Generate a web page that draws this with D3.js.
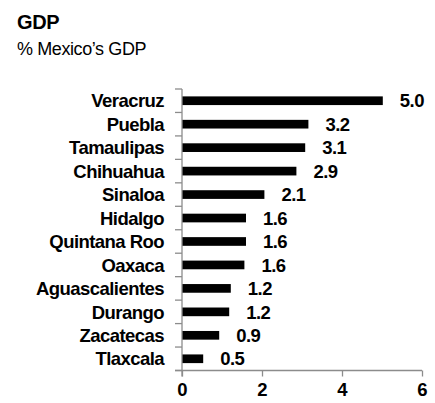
<!DOCTYPE html>
<html>
<head>
<meta charset="utf-8">
<script src="https://cdn.jsdelivr.net/npm/d3@7/dist/d3.min.js"></script>
<style>
  html, body { margin: 0; padding: 0; background: #fff; }
  svg { display: block; }
  text { font-family: "Liberation Sans", Arial, sans-serif; fill: #000; }
</style>
</head>
<body>
<svg id="chart" width="435" height="403"></svg>
<script>
const states = ["Veracruz", "Puebla", "Tamaulipas", "Chihuahua", "Sinaloa", "Hidalgo",
                "Quintana Roo", "Oaxaca", "Aguascalientes", "Durango", "Zacatecas", "Tlaxcala"];
const gdpShare = [5.02, 3.16, 3.08, 2.86, 2.06, 1.6, 1.6, 1.56, 1.22, 1.18, 0.93, 0.53];
const xTicks = [0, 2, 4, 6];
const titleText = "GDP";
const subtitleText = "% Mexico\u2019s GDP";

const svg = d3.select("#chart");
const axisColor = "#8c8c8c";
const labelSize = "18.5px";
const labelSpacing = "-0.55px";

const x = d3.scaleLinear().domain([0, 6]).range([182, 422]);
const y = d3.scaleBand().domain(states).range([89, 370.5]).paddingInner(0.63).paddingOuter(0.315);
const step = y.step();

svg.append("text").attr("x", 17).attr("y", 28.5)
  .style("font-size", "20px").style("font-weight", "bold").style("letter-spacing", "-0.4px").text(titleText);
svg.append("text").attr("x", 17).attr("y", 55)
  .style("font-size", "18px").style("letter-spacing", "-0.4px").text(subtitleText);

// bars
svg.selectAll("rect.bar").data(states).join("rect")
  .attr("class", "bar")
  .attr("x", x(0))
  .attr("y", d => y(d))
  .attr("width", (d, i) => x(gdpShare[i]) - x(0))
  .attr("height", y.bandwidth())
  .attr("fill", "#000");

// value labels
svg.selectAll("text.val").data(states).join("text")
  .attr("class", "val")
  .attr("x", (d, i) => x(gdpShare[i]) + 17)
  .attr("y", d => y(d) + y.bandwidth() / 2)
  .attr("dy", "0.36em")
  .style("font-size", labelSize).style("font-weight", "bold").style("letter-spacing", labelSpacing)
  .text((d, i) => d3.format(".1f")(gdpShare[i]));

// category labels
svg.selectAll("text.cat").data(states).join("text")
  .attr("class", "cat")
  .attr("x", 164)
  .attr("y", d => y(d) + y.bandwidth() / 2)
  .attr("dy", "0.36em")
  .attr("text-anchor", "end")
  .style("font-size", labelSize).style("font-weight", "bold").style("letter-spacing", labelSpacing)
  .text(d => d);

// y axis line and boundary ticks
const yTop = y.range()[0], yBot = y.range()[1];
svg.append("line").attr("x1", x(0)).attr("x2", x(0)).attr("y1", yTop).attr("y2", yBot + 6)
  .attr("stroke", axisColor).attr("stroke-width", 1.3);
const bounds = states.map(d => y(d) - step * y.paddingInner() / 2).concat([yBot]);
bounds[0] = yTop;
svg.selectAll("line.ytick").data(bounds).join("line")
  .attr("class", "ytick")
  .attr("x1", x(0) - 7).attr("x2", x(0))
  .attr("y1", d => d).attr("y2", d => d)
  .attr("stroke", axisColor).attr("stroke-width", 1.3);

// x axis
const xAxis = d3.axisBottom(x).tickValues(xTicks).tickSize(6).tickPadding(6).tickFormat(d3.format("d"));
const gx = svg.append("g").attr("transform", `translate(0,${yBot})`).call(xAxis);
gx.select(".domain").attr("stroke", axisColor).attr("stroke-width", 1.3)
  .attr("d", `M${x(0) - 7},0H${x(6)}`);
gx.selectAll(".tick line").attr("stroke", axisColor).attr("stroke-width", 1.3);
gx.selectAll(".tick text")
  .style("font-family", "'Liberation Sans', Arial, sans-serif")
  .style("font-size", labelSize).style("font-weight", "bold").attr("fill", "#000");
</script>
</body>
</html>
